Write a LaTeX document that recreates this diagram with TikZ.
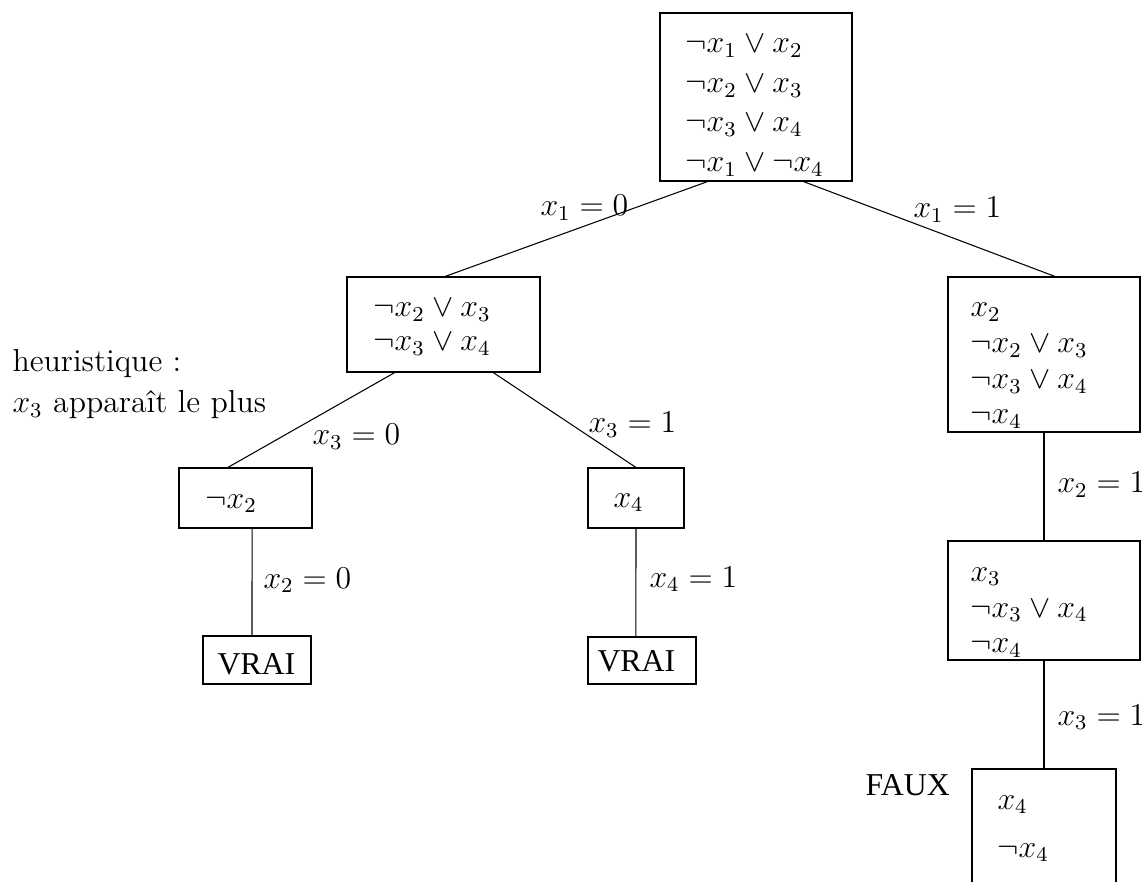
\documentclass[tikz,border=0pt]{standalone}
\usepackage{fontspec}
\newfontfamily\timesf{Liberation Serif}
\usetikzlibrary{fit,calc}
\tikzset{
  box/.style={draw, rectangle, inner sep=0pt, line width=0.4pt},
  txt/.style={anchor=base west, inner sep=0pt, font=\fontsize{12}{14.5}\selectfont},
  ttxt/.style={anchor=base west, inner sep=0pt, font=\fontsize{12}{14.5}\timesf},
  edge/.style={draw, line width=0.4pt}
}
\begin{document}
\begin{tikzpicture}[x=0.37736pt, y=-0.37736pt]
\useasboundingbox (0,0) rectangle (1142,882);
\clip (0,0) rectangle (1142,882);
% boxes
\node[box, fit={(660,13) (852,181)}] (T) {};
\node[box, fit={(347,277) (540,372)}] (L) {};
\node[box, fit={(948,277) (1140,432)}] (R) {};
\node[box, fit={(179,468) (312,528)}] (LL) {};
\node[box, fit={(588,468) (684,528)}] (LR) {};
\node[box, fit={(203,636) (311,684)}] (V1) {};
\node[box, fit={(588,637) (696,684)}] (V2) {};
\node[box, fit={(948,541) (1140,660)}] (RR) {};
\node[box, fit={(972,769) (1116,910)}] (F) {};
% box texts
\node[txt] (t1) at (685,53) {$\neg x_1 \vee x_2$};
\node[txt] (t2) at (685,92.5) {$\neg x_2 \vee x_3$};
\node[txt] (t3) at (685,132) {$\neg x_3 \vee x_4$};
\node[txt] (t4) at (685,172) {$\neg x_1 \vee \neg x_4$};
\node[txt] (l1) at (373,317) {$\neg x_2 \vee x_3$};
\node[txt] (l2) at (373,351) {$\neg x_3 \vee x_4$};
\node[txt] (r1) at (970,317) {$x_2$};
\node[txt] (r2) at (970,353) {$\neg x_2 \vee x_3$};
\node[txt] (r3) at (970,388.5) {$\neg x_3 \vee x_4$};
\node[txt] (r4) at (970,423.5) {$\neg x_4$};
\node[txt] (ll1) at (205,508) {$\neg x_2$};
\node[txt] (lr1) at (613,507) {$x_4$};
\node[ttxt] (v1) at (217,674) {VRAI};
\node[ttxt] (v2) at (597,671) {VRAI};
\node[txt] (rr1) at (970,581) {$x_3$};
\node[txt] (rr2) at (970,617) {$\neg x_3 \vee x_4$};
\node[txt] (rr3) at (970,652.5) {$\neg x_4$};
\node[txt] (f1) at (997,809) {$x_4$};
\node[txt] (f2) at (997,857) {$\neg x_4$};
\node[ttxt] (faux) at (865,795) {FAUX};
\node[txt] (h1) at (12,371.5) {heuristique :};
\node[txt] (h2) at (12,413) {$x_3$ apparaît le plus};
% connectors
\draw[edge] ($(T.south west)!0.25!(T.south east)$) -- ($(L.north west)!0.508!(L.north east)$);
\draw[edge] ($(T.south west)!0.745!(T.south east)$) -- ($(R.north west)!0.557!(R.north east)$);
\draw[edge] ($(L.south west)!0.249!(L.south east)$) -- ($(LL.north west)!0.368!(LL.north east)$);
\draw[edge] ($(L.south west)!0.756!(L.south east)$) -- (LR.north);
\draw[edge] ($(LL.south west)!0.549!(LL.south east)$) -- ($(V1.north west)!0.454!(V1.north east)$);
\draw[edge] (LR.south) -- ($(V2.north west)!0.444!(V2.north east)$);
\draw[edge] (R.south) -- (RR.north);
\draw[edge] (RR.south) -- (F.north);
% edge labels
\node[txt] (e1) at (540,216) {$x_1 = 0$};
\node[txt] (e2) at (913,218) {$x_1 = 1$};
\node[txt] (e3) at (312,445) {$x_3 = 0$};
\node[txt] (e4) at (588,433) {$x_3 = 1$};
\node[txt] (e5) at (263,588) {$x_2 = 0$};
\node[txt] (e6) at (649,587) {$x_4 = 1$};
\node[txt] (e7) at (1057,492.5) {$x_2 = 1$};
\node[txt] (e8) at (1057,725) {$x_3 = 1$};
\end{tikzpicture}
\end{document}
